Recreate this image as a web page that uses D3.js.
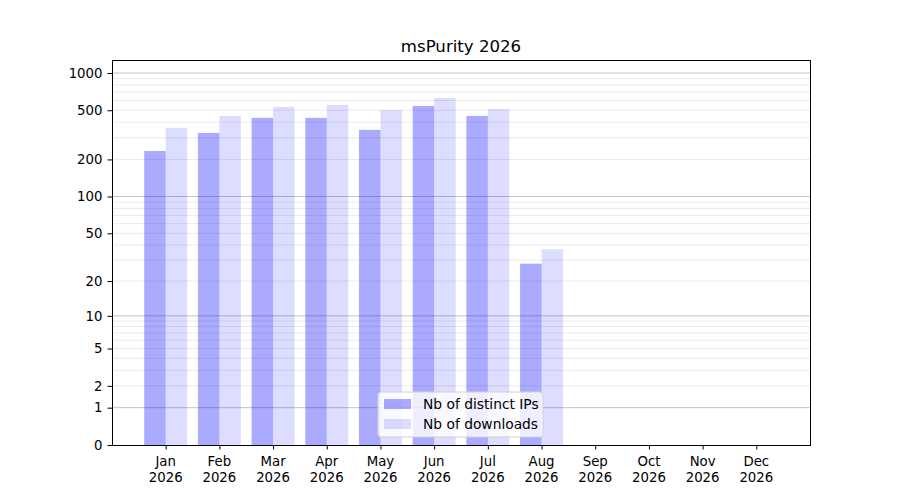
<!DOCTYPE html>
<html>
<head>
<meta charset="utf-8">
<script src="https://cdn.jsdelivr.net/npm/d3@7"></script>
<style>
  body { margin: 0; background: #fff; }
  text { font-family: "DejaVu Sans", sans-serif; fill: #000; }
</style>
</head>
<body>
<div id="viz"></div>
<script>
// data
var months = ['Jan', 'Feb', 'Mar', 'Apr', 'May', 'Jun', 'Jul', 'Aug', 'Sep', 'Oct', 'Nov', 'Dec'];
var year = '2026';
var distinctIPs = [234, 328, 434, 434, 347, 542, 450, 28, 0, 0, 0, 0];
var downloads = [360, 450, 532, 552, 503, 629, 512, 37, 0, 0, 0, 0];
var yTicks = [0, 1, 2, 5, 10, 20, 50, 100, 200, 500, 1000];
var majorGrid = [1, 10, 100, 1000];
var minorGrid = [2, 3, 4, 5, 6, 7, 8, 9, 20, 30, 40, 50, 60, 70, 80, 90, 200, 300, 400, 500, 600, 700, 800, 900];

var W = 900, H = 500;
var mLeft = 112, mRight = 810, mTop = 60, mBottom = 445;

var svg = d3.select('#viz').append('svg')
  .attr('width', W).attr('height', H);

var x = d3.scaleLinear().domain([-1, 12]).range([mLeft, mRight]);
var y = d3.scaleSymlog().constant(1).domain([0, 1273]).range([mBottom, mTop]);
var bw = (x(1) - x(0)) * 0.4;

// grid
svg.append('g').selectAll('line').data(minorGrid).join('line')
  .attr('x1', mLeft).attr('x2', mRight)
  .attr('y1', d => y(d)).attr('y2', d => y(d))
  .style('stroke', '#ebebeb').style('stroke-width', 1);
svg.append('g').selectAll('line').data(majorGrid).join('line')
  .attr('x1', mLeft).attr('x2', mRight)
  .attr('y1', d => y(d)).attr('y2', d => y(d))
  .style('stroke', '#c4c4c4').style('stroke-width', 1);

// bars
svg.append('g').selectAll('rect').data(distinctIPs).join('rect')
  .attr('x', (d, i) => x(i) - bw)
  .attr('y', d => y(d))
  .attr('width', bw)
  .attr('height', d => y(0) - y(d))
  .style('fill', 'blue').style('fill-opacity', 0.333);
svg.append('g').selectAll('rect').data(downloads).join('rect')
  .attr('x', (d, i) => x(i))
  .attr('y', d => y(d))
  .attr('width', bw)
  .attr('height', d => y(0) - y(d))
  .style('fill', 'blue').style('fill-opacity', 0.133);

// frame
svg.append('rect')
  .attr('x', mLeft).attr('y', mTop)
  .attr('width', mRight - mLeft).attr('height', mBottom - mTop)
  .attr('shape-rendering', 'crispEdges')
  .style('fill', 'none').style('stroke', '#000').style('stroke-width', 1);

// y axis
var yAxis = d3.axisLeft(y).tickValues(yTicks).tickFormat(d3.format('d')).tickSize(4.5).tickPadding(5);
var gy = svg.append('g').attr('transform', `translate(${mLeft},0)`).call(yAxis);
gy.select('.domain').remove();
gy.selectAll('text').style('font-size', '13.3px').style('font-family', '"DejaVu Sans", sans-serif');

// x axis
var xAxis = d3.axisBottom(x).tickValues(d3.range(12)).tickFormat('').tickSize(4.5);
var gx = svg.append('g').attr('transform', `translate(0,${mBottom})`).call(xAxis);
gx.select('.domain').remove();
var lab = svg.append('g').selectAll('text').data(months).join('text')
  .attr('x', (d, i) => x(i))
  .attr('y', mBottom + 21)
  .attr('text-anchor', 'middle')
  .style('font-size', '13.3px');
lab.append('tspan').attr('x', (d, i) => x(i)).text(d => d);
lab.append('tspan').attr('x', (d, i) => x(i)).attr('dy', 16).text(year);

// title
svg.append('text')
  .attr('x', (mLeft + mRight) / 2).attr('y', mTop - 8)
  .attr('text-anchor', 'middle')
  .style('font-size', '16.6px')
  .text('msPurity ' + year);

// legend
var lg = svg.append('g').attr('transform', 'translate(378,392)');
lg.append('rect').attr('width', 165).attr('height', 45).attr('rx', 3)
  .style('fill', '#fff').style('fill-opacity', 0.8)
  .style('stroke', '#d0d0d0').style('stroke-width', 1);
var items = [['Nb of distinct IPs', 0.333], ['Nb of downloads', 0.133]];
items.forEach(function (it, i) {
  lg.append('rect').attr('x', 6).attr('y', 7 + i * 20).attr('width', 27).attr('height', 10)
    .style('fill', 'blue').style('fill-opacity', it[1]);
  lg.append('text').attr('x', 45).attr('y', 16.5 + i * 20)
    .style('font-size', '13.8px').text(it[0]);
});
</script>
</body>
</html>
